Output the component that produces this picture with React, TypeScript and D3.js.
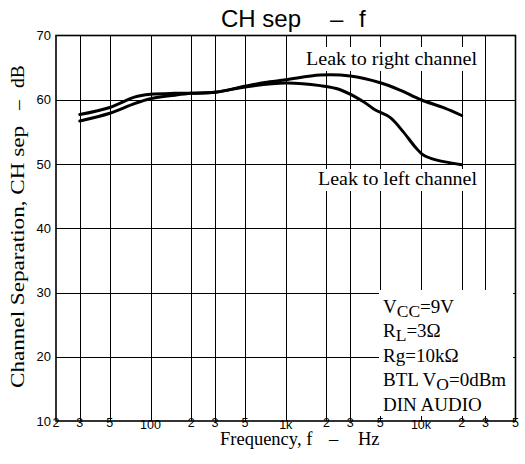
import React from 'react';
import * as d3 from 'd3';

// values (Hz, dB)
const FREQ_RIGHT = [30, 50, 76, 100, 150, 200, 300, 500, 700, 1000, 1800, 3000, 5000, 7000, 10000, 15000, 20000];
const SEP_RIGHT = [57.7, 58.8, 60.4, 60.85, 61.0, 61.0, 61.15, 62.1, 62.7, 63.1, 63.85, 63.7, 62.65, 61.5, 60.0, 58.7, 57.55];

const FREQ_LEFT = [30, 50, 76, 100, 150, 200, 300, 500, 1000, 1800, 2500, 3760, 4600, 5900, 7400, 9100, 10400, 13100, 20000];
const SEP_LEFT = [56.7, 57.9, 59.4, 60.15, 60.7, 61.0, 61.15, 62.0, 62.6, 62.2, 61.6, 59.7, 58.4, 57.25, 55.0, 52.6, 51.4, 50.6, 49.9];

const Y_TICKS = [10, 20, 30, 40, 50, 60, 70];
const X_TICKS = [20, 30, 50, 100, 200, 300, 500, 1000, 2000, 3000, 5000, 10000, 20000, 30000, 50000];
const X_TICK_LABELS = ['2', '3', '5', '100', '2', '3', '5', '1k', '2', '3', '5', '10k', '2', '3', '5'];

const CONDITIONS = [
  { main: 'V', sub: 'CC', rest: '=9V' },
  { main: 'R', sub: 'L', rest: '=3Ω' },
  { main: 'Rg=10kΩ', sub: '', rest: '' },
  { main: 'BTL V', sub: 'O', rest: '=0dBm' },
  { main: 'DIN AUDIO', sub: '', rest: '' },
];

const W = 525;
const H = 464;
const LEFT = 56;
const RIGHT = 515.5;
const TOP = 35.5;
const BOTTOM = 421;

const SERIF = '"Liberation Serif", "Times New Roman", serif';
const SANS = '"Liberation Sans", Arial, sans-serif';

export default function App() {
  const x = d3.scaleLog().domain([20, 50000]).range([LEFT, RIGHT]);
  const y = d3.scaleLinear().domain([10, 70]).range([BOTTOM, TOP]);

  const line = d3.line<[number, number]>()
    .x(d => x(d[0]))
    .y(d => y(d[1]))
    .curve(d3.curveCatmullRom.alpha(0.5));

  const rightPath = line(FREQ_RIGHT.map((f, i) => [f, SEP_RIGHT[i]])) || '';
  const leftPath = line(FREQ_LEFT.map((f, i) => [f, SEP_LEFT[i]])) || '';

  const innerX = X_TICKS.slice(1, -1);
  const innerY = Y_TICKS.slice(1, -1);

  return (
    <svg width={W} height={H} style={{ position: 'absolute', left: 0, top: 0, background: '#fff' }}>
      {/* grid */}
      {innerX.map(t => (
        <line key={'gx' + t} x1={Math.round(x(t)) + 0.5} x2={Math.round(x(t)) + 0.5} y1={TOP} y2={BOTTOM} stroke="#000" strokeWidth={1} />
      ))}
      {innerY.map(t => (
        <line key={'gy' + t} x1={LEFT} x2={RIGHT} y1={Math.round(y(t)) + 0.5} y2={Math.round(y(t)) + 0.5} stroke="#000" strokeWidth={1} />
      ))}

      {/* white boxes behind the labels */}
      <rect x={303} y={47} width={178} height={24} fill="#fff" />
      <rect x={315} y={169} width={166} height={22} fill="#fff" />
      <rect x={379} y={290} width={134} height={126} fill="#fff" />

      {/* frame */}
      <rect x={LEFT} y={TOP} width={RIGHT - LEFT} height={BOTTOM - TOP} fill="none" stroke="#000" strokeWidth={1.6} />

      {/* curves */}
      <path d={rightPath} fill="none" stroke="#000" strokeWidth={3} strokeLinejoin="round" strokeLinecap="round" />
      <path d={leftPath} fill="none" stroke="#000" strokeWidth={3} strokeLinejoin="round" strokeLinecap="round" />

      {/* y ticks */}
      {Y_TICKS.map(t => (
        <text key={'yt' + t} x={51} y={y(t)} dy="0.36em" textAnchor="end" fontFamily={SANS} fontSize={13}>{t}</text>
      ))}
      {/* x ticks */}
      {X_TICKS.map((t, i) => (
        <text key={'xt' + t} x={x(t)} y={X_TICK_LABELS[i].length > 1 ? 428.5 : 426.5} textAnchor="middle" fontFamily={SANS} fontSize={12.5}>
          {X_TICK_LABELS[i]}
        </text>
      ))}

      {/* title */}
      <text y={27} fontFamily={SANS} fontSize={24}>
        <tspan x={221}>CH sep</tspan>
        <tspan x={330}>–</tspan>
        <tspan x={359}>f</tspan>
      </text>

      {/* axis titles */}
      <text y={445} fontFamily={SERIF} fontSize={18.5}>
        <tspan x={220}>Frequency, f</tspan>
        <tspan x={329}>–</tspan>
        <tspan x={358}>Hz</tspan>
      </text>
      <text transform="translate(24,0) rotate(-90)" fontFamily={SERIF} fontSize={19.5}>
        <tspan x={-388} textLength={262} lengthAdjust="spacingAndGlyphs">Channel Separation, CH sep</tspan>
        <tspan x={-110}>–</tspan>
        <tspan x={-88}>dB</tspan>
      </text>

      {/* curve labels */}
      <text x={306} y={65} fontFamily={SERIF} fontSize={19} textLength={171} lengthAdjust="spacingAndGlyphs">Leak to right channel</text>
      <text x={318} y={185} fontFamily={SERIF} fontSize={19} textLength={159} lengthAdjust="spacingAndGlyphs">Leak to left channel</text>

      {/* test conditions */}
      {CONDITIONS.map((c, i) => (
        <text key={'c' + i} x={383} y={312.5 + i * 24.5} fontFamily={SERIF} fontSize={19}>
          {c.main}
          {c.sub && <tspan dy={4} fontSize={17.5}>{c.sub}</tspan>}
          {c.rest && <tspan dy={-4}>{c.rest}</tspan>}
        </text>
      ))}
    </svg>
  );
}
